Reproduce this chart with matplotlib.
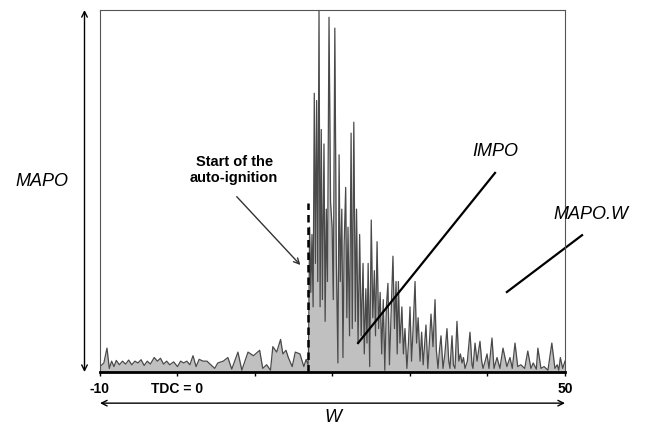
import matplotlib.pyplot as plt

plt.rcParams['font.family'] = ['Liberation Sans', 'DejaVu Sans']

# crank angle (deg) and pressure oscillation amplitude (% of MAPO)
# before auto-ignition: low noise
angle_pre = [-10.0, -9.5, -9.1, -8.8, -8.5, -8.2, -7.9, -7.5, -7.1, -6.7, -6.3, -5.9,
             -5.5, -5.1, -4.7, -4.3, -3.9, -3.5, -3.0, -2.6, -2.2, -1.8, -1.4, -1.0,
             -0.5, 0.0, 0.4, 0.8, 1.2, 1.6, 2.0, 2.4, 2.8, 3.3, 3.8, 4.8, 5.2, 5.9,
             6.5, 7.0, 7.8, 8.3, 9.1, 9.8, 10.6, 11.0, 11.5, 12.0, 12.3, 12.8, 13.3,
             13.6, 14.0, 14.3, 14.8, 15.2, 15.8, 16.3, 16.6, 16.85]
amp_pre = [1.5, 2.5, 6.6, 1.0, 3.0, 1.5, 3.2, 2.0, 3.0, 2.2, 3.3, 2.0,
           3.0, 2.5, 3.4, 1.8, 3.0, 2.2, 4.0, 3.0, 3.8, 2.2, 3.0, 2.0,
           2.8, 1.5, 3.0, 2.5, 3.0, 2.0, 4.5, 1.5, 3.5, 3.0, 3.0, 1.0, 2.5, 3.0,
           4.0, 0.8, 5.5, 0.5, 5.5, 4.5, 6.0, 1.0, 2.0, 0.5, 7.0, 5.5, 9.0,
           5.0, 6.0, 4.0, 1.5, 5.5, 5.0, 1.5, 3.5, 2.0]

# knock: strong oscillation after auto-ignition
angle_knock = [16.9, 17.05, 17.2, 17.35, 17.5, 17.65, 17.8, 17.95, 18.1, 18.26, 18.4,
               18.55, 18.7, 18.9, 19.05, 19.2, 19.35, 19.55, 19.75, 19.95, 20.1, 20.3,
               20.5, 20.7, 20.85, 21.0, 21.2, 21.35, 21.5, 21.7, 21.85, 22.0, 22.2,
               22.4, 22.55, 22.75, 22.95, 23.1, 23.3, 23.5, 23.7, 23.94, 24.1, 24.3,
               24.45, 24.6, 24.8, 25.0, 25.2, 25.4, 25.55, 25.75, 25.95, 26.15, 26.35,
               26.55, 26.75, 26.95, 27.15, 27.35, 27.55, 27.8, 28.0, 28.2, 28.35, 28.5,
               28.7, 28.95, 29.15, 29.35, 29.6, 29.8, 30.0, 30.2, 30.4, 30.65, 30.85,
               31.05, 31.3]
amp_knock = [5, 40, 22, 38, 18, 77, 30, 75, 25, 100, 18,
             67, 20, 63, 14, 45, 25, 98, 47, 40, 20, 95,
             30, 2.5, 60, 25, 45, 4, 35, 51, 15, 40, 10,
             66, 12, 69, 14, 45, 8, 38, 10, 30, 5, 23,
             8, 30, 1.5, 42, 15, 28, 10, 36, 12, 22, 5,
             20, 0.5, 18, 24.5, 2, 15, 32, 12, 25, 5, 25,
             8, 18, 5, 12, 1, 8, 18, 3, 12, 25, 8,
             15, 3]

# decaying oscillation up to 50 deg
angle_decay = [31.5, 31.7, 32.06, 32.3, 32.5, 32.71, 32.97, 33.23, 33.4, 33.61, 33.8,
               34.0, 34.26, 34.5, 34.77, 35.0, 35.16, 35.42, 35.6, 35.81, 36.06, 36.3,
               36.5, 36.71, 36.9, 37.1, 37.4, 37.74, 38.0, 38.13, 38.39, 38.65, 39.03,
               39.25, 39.42, 39.7, 39.94, 40.19, 40.58, 40.84, 41.23, 41.6, 42.0, 42.5,
               42.9, 43.2, 43.55, 43.9, 44.3, 44.8, 45.2, 45.6, 45.9, 46.3, 46.5, 46.9,
               47.3, 47.8, 48.3, 48.7, 49.0, 49.2, 49.4, 49.7, 50.0]
amp_decay = [11, 2, 13, 1, 8, 16, 7, 20, 6, 1, 6,
             10, 1, 5, 12, 3, 1, 10, 2, 1, 14, 3,
             5, 2.5, 4, 1, 3, 11, 2, 1, 8, 3, 8.5,
             3, 1, 3, 5, 1, 9.4, 1, 4, 1, 6.6, 1.5,
             4, 1, 8, 1.5, 2, 1, 5.8, 1, 2.5, 0.8, 6.6, 1,
             1.5, 0.5, 8, 1, 2, 0.5, 4, 1, 3]

ignition_angle = 16.8
xtick_vals = [-10, 0, 10, 20, 30, 40, 50]
xtick_labels = ['-10', 'TDC = 0', '', '', '', '', '50']

angle = angle_pre + angle_knock + angle_decay
amp = amp_pre + amp_knock + amp_decay

fig = plt.figure(figsize=(6.64, 4.28), dpi=100)
ax = fig.add_axes([0.1506, 0.1308, 0.7003, 0.8458])

ax.fill_between(angle, 0, amp, color='#c0c0c0', linewidth=0)
ax.plot(angle, amp, color='#4a4a4a', linewidth=0.9)
ax.plot([ignition_angle, ignition_angle], [0, 46.7], color='black',
        linestyle=(0, (3, 2)), linewidth=1.8)

ax.set_xlim(-10, 50)
ax.set_ylim(0, 100)
ax.set_yticks([])
ax.set_xticks(xtick_vals)
ax.set_xticklabels(xtick_labels, fontweight='bold', fontsize=10)
ax.tick_params(axis='x', direction='out', length=3, width=1, pad=4)

for side in ['left', 'top', 'right']:
    ax.spines[side].set_color('#555555')
    ax.spines[side].set_linewidth(0.8)
ax.spines['bottom'].set_linewidth(2)
ax.spines['bottom'].set_color('black')

# annotations
ax.text(7.3, 55.8, 'Start of the\nauto-ignition', ha='center', va='center',
        fontsize=10.5, fontweight='bold', linespacing=1.1)
ax.annotate('', xy=(16.1, 29.0), xytext=(7.4, 49.0),
            arrowprops=dict(arrowstyle='->', color='#333333', lw=1.0))
ax.plot([23.3, 40.97], [8.0, 55.0], color='black', linewidth=1.6)
ax.text(41.0, 58.5, 'IMPO', fontsize=13, fontstyle='italic', ha='center', va='bottom')
ax.plot([42.5, 52.2], [22.1, 37.8], color='black', linewidth=1.6, clip_on=False)
ax.text(53.3, 43.5, 'MAPO.W', fontsize=13, fontstyle='italic', ha='center', va='center')

# MAPO and W double arrows
ax.annotate('', xy=(-12.0, 100), xytext=(-12.0, 0),
            arrowprops=dict(arrowstyle='<->', color='black', lw=1.0,
                            shrinkA=0, shrinkB=0), annotation_clip=False)
ax.text(-17.5, 52.5, 'MAPO', fontsize=13, fontstyle='italic', ha='center', va='center')
ax.annotate('', xy=(50, -8.6), xytext=(-10, -8.6),
            arrowprops=dict(arrowstyle='<->', color='black', lw=1.0,
                            shrinkA=0, shrinkB=0), annotation_clip=False)
ax.text(20, -12.5, 'W', fontsize=13, fontstyle='italic', ha='center', va='center')

fig.savefig('out.png', dpi=100)
